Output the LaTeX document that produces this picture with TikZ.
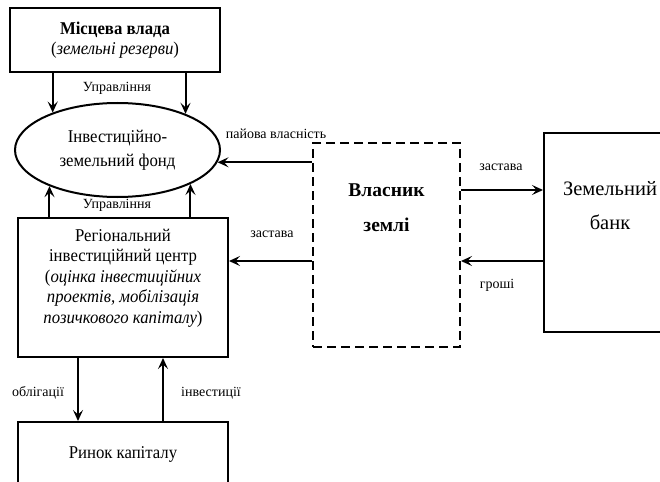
\documentclass[tikz,border=0pt]{standalone}
\usepackage{fontspec}
\setmainfont{Liberation Serif}
\newfontfamily\leftfont{Liberation Serif}[FakeStretch=0.93]
\usetikzlibrary{arrows.meta,shapes.geometric}

\tikzset{
  box/.style={draw, line width=2pt, align=center, inner sep=0pt},
  ownerbox/.style={box, dash pattern=on 9pt off 5pt},
  fundshape/.style={ellipse, draw, line width=2pt, align=center, inner sep=0pt},
  arr/.style={line width=2pt, -{Stealth[length=11pt,width=10pt,inset=4.5pt]}},
  lbl/.style={font=\fontsize{14}{16}\selectfont, inner sep=0pt},
}

\begin{document}
\begin{tikzpicture}[x=1pt, y=-1pt, font=\leftfont\fontsize{18}{20.5}\selectfont]
  \useasboundingbox (0,0) rectangle (660,481);

  % boxes
  \node[box, minimum width=210pt, minimum height=64pt] (mv) at (115,40)
    {\textbf{Місцева влада}\\(\textit{земельні резерви})};
  \node[fundshape, minimum width=205pt, minimum height=94pt,
        font=\leftfont\fontsize{18}{24}\selectfont] (fund) at (117.5,150)
    {Інвестиційно-\\земельний фонд};
  \node[box, minimum width=210pt, minimum height=139pt] (rc) at (123,287.5)
    {Регіональний\\інвестиційний центр\\(\textit{оцінка інвестиційних}\\
     \textit{проектів, мобілізація}\\\textit{позичкового капіталу})\\[2pt]\mbox{}};
  \node[box, minimum width=210pt, minimum height=64pt] (cm) at (123,454)
    {Ринок капіталу};
  \node[ownerbox, minimum width=147pt, minimum height=204pt,
        font=\rmfamily\bfseries\fontsize{19.5}{35}\selectfont] (owner) at (386.5,245)
    {Власник\\землі\\[5pt]\mbox{}\\\mbox{}};
  \node[box, minimum width=132pt, minimum height=199pt,
        font=\rmfamily\fontsize{20.5}{34}\selectfont] (bank) at (610,232.5)
    {Земельний\\банк\\[21pt]\mbox{}};

  % arrows
  \draw[arr] (fund.150 |- mv.south) -- (fund.150);
  \draw[arr] (fund.28 |- mv.south) -- (fund.28);
  \draw[arr] (fund.208 |- rc.north) -- (fund.208);
  \draw[arr] (fund.335 |- rc.north) -- (fund.335);
  \draw[arr] (fund.-7.5 -| owner.west) -- (fund.-7.5);
  \draw[arr] ([yshift=26.5pt]rc.east -| owner.west) -- ([yshift=26.5pt]rc.east);
  \draw[arr] ([yshift=42.5pt]bank.west -| owner.east) -- ([yshift=42.5pt]bank.west);
  \draw[arr] ([yshift=-28.5pt]bank.west) -- ([yshift=-28.5pt]bank.west -| owner.east);
  \draw[arr] ([xshift=-45pt]rc.south) -- ([xshift=-45pt]rc.south |- cm.north);
  \draw[arr] ([xshift=40pt]rc.south |- cm.north) -- ([xshift=40pt]rc.south);

  % labels
  \node[lbl] (ctrltop) at (117,88) {Управління};
  \node[lbl] (ctrlbot) at (117,205) {Управління};
  \node[lbl] (share) at (276,134) {пайова власність};
  \node[lbl] (pledgel) at (272,234) {застава};
  \node[lbl] (pledger) at (501,167) {застава};
  \node[lbl] (money) at (497,285) {гроші};
  \node[lbl] (bonds) at (38,393) {облігації};
  \node[lbl] (invest) at (211,393) {інвестиції};
\end{tikzpicture}
\end{document}
